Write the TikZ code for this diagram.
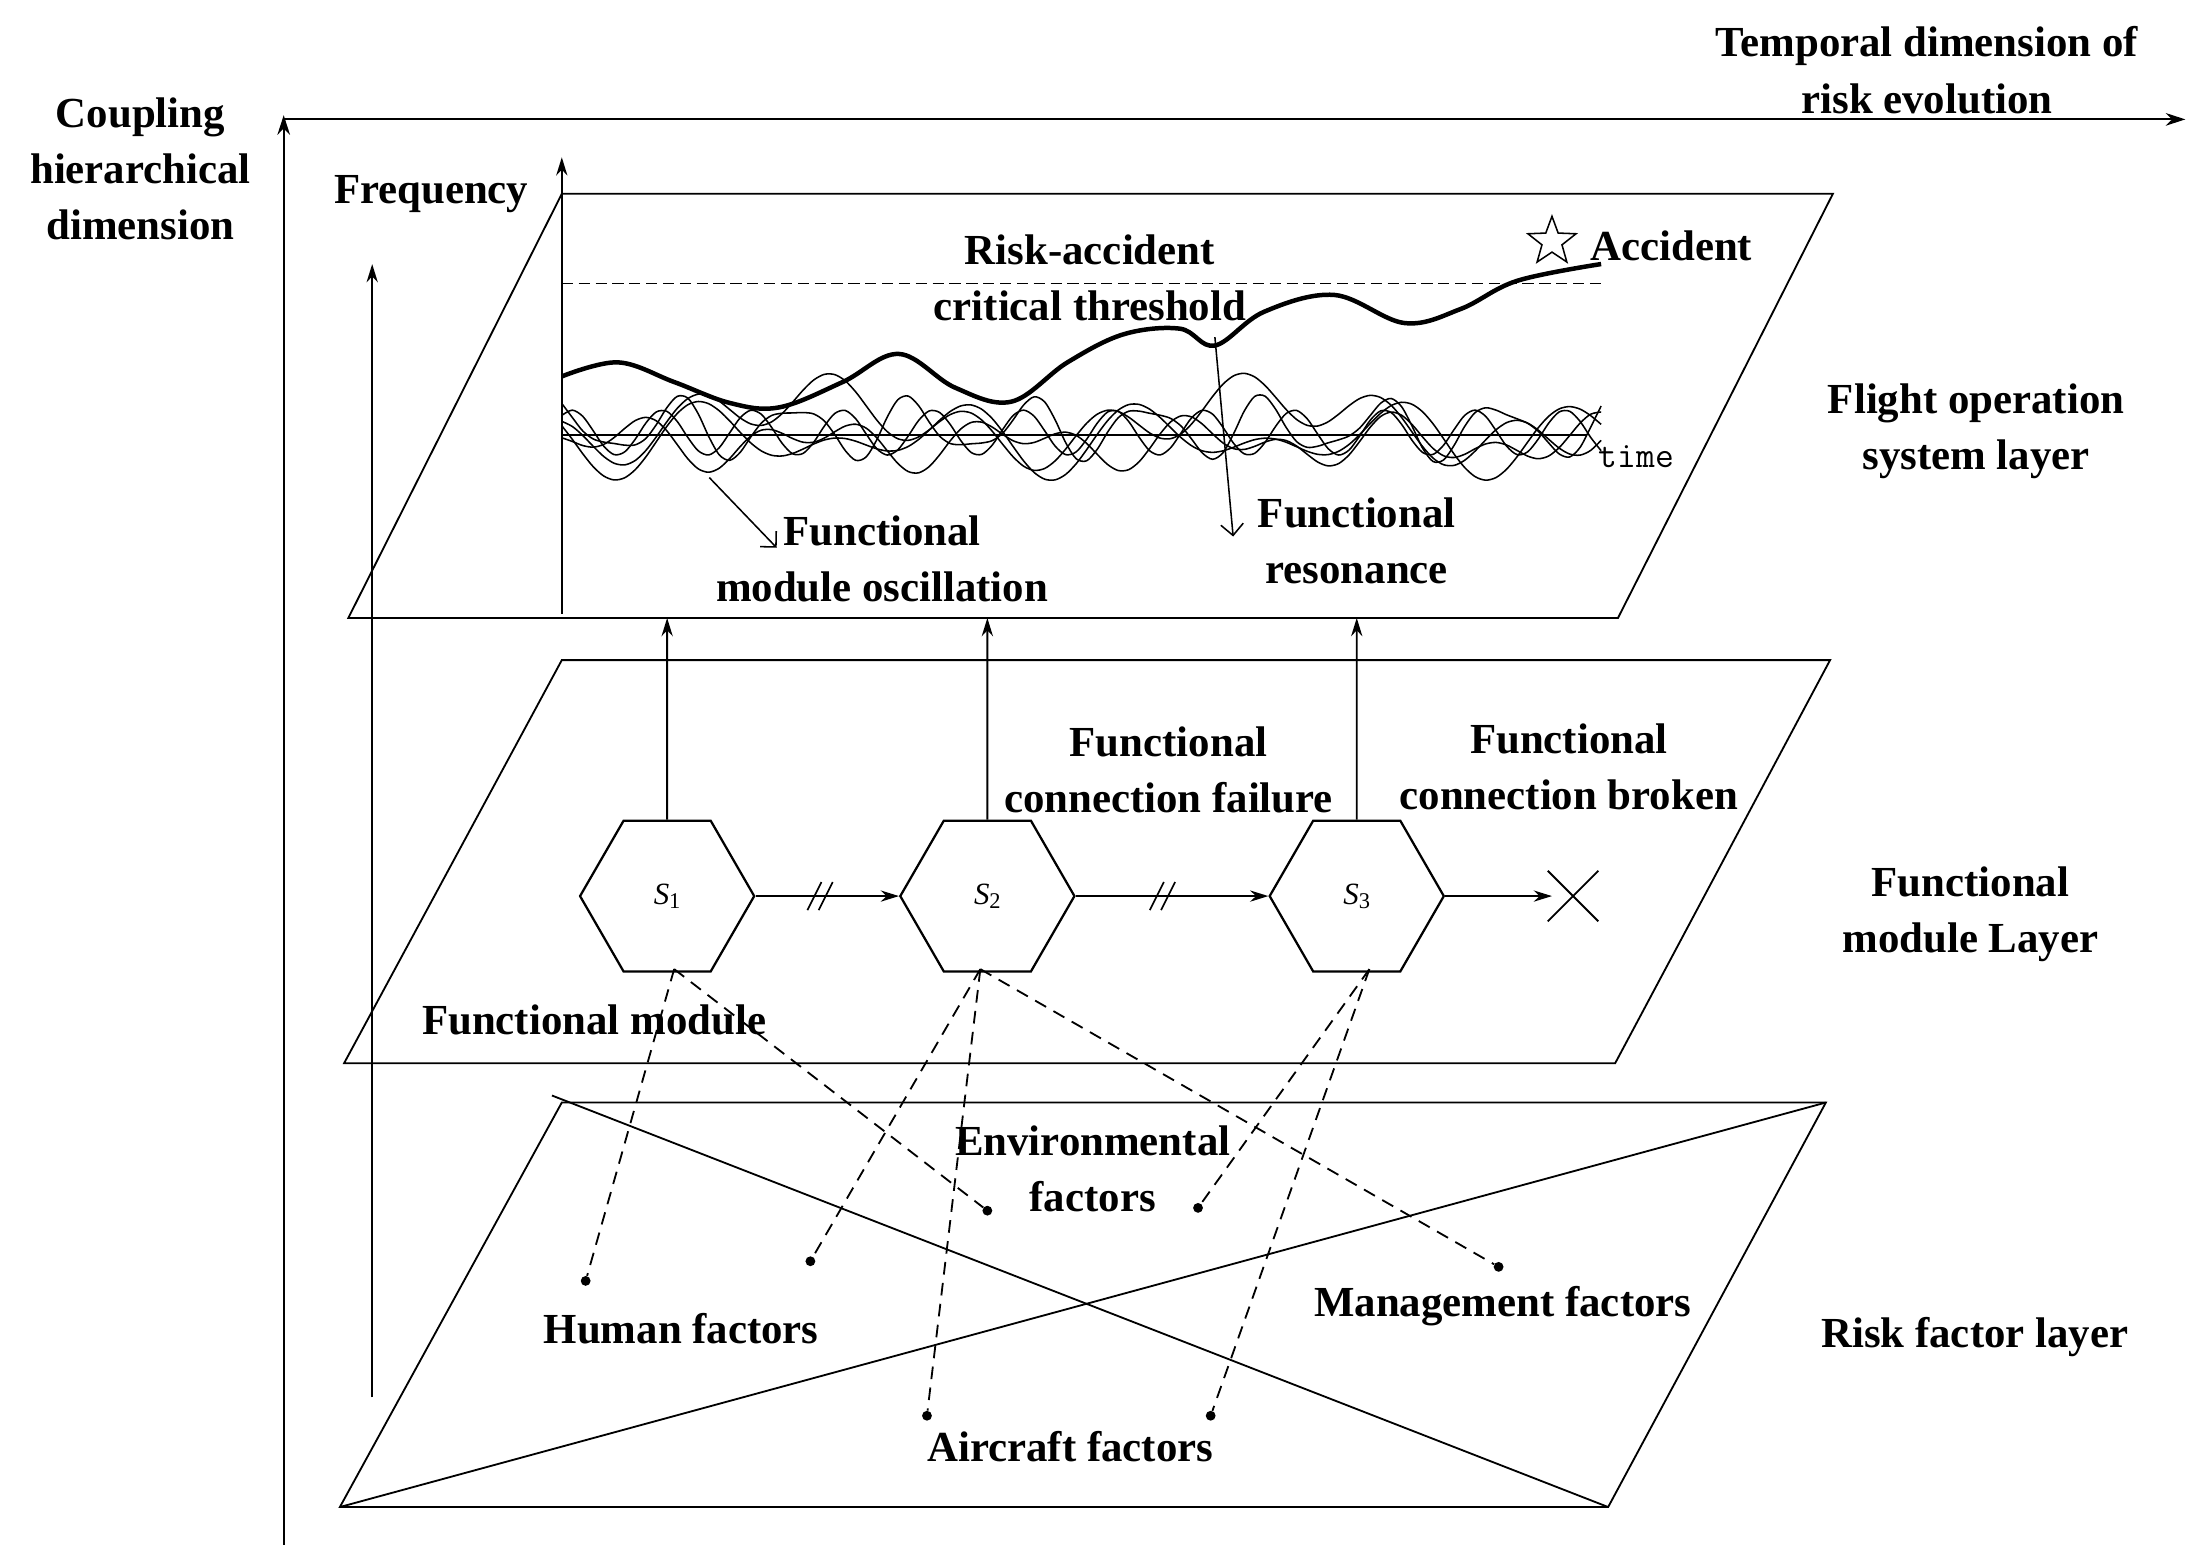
\documentclass[tikz,border=0pt]{standalone}
\usepackage{fontspec}
\setmainfont{Liberation Serif}
\usetikzlibrary{shapes.geometric,calc,arrows.meta}
\begin{document}
\begin{tikzpicture}[x=1pt,y=-1pt,
  lbl/.style={font=\fontsize{30.5}{40}\selectfont\bfseries,align=center,inner sep=0},
  ax/.style={line width=1.4pt,-{Stealth[length=14,width=9]}},
  arr/.style={line width=1.3pt,-{Stealth[length=13,width=8]}},
  plane/.style={line width=1.3pt},
  hex/.style={regular polygon,regular polygon sides=6,draw,line width=1.6pt,minimum size=124,inner sep=0,font=\fontsize{22}{24}\selectfont},
  dot/.style={circle,fill,inner sep=0,minimum size=7},
  dsh/.style={line width=1.3pt,dash pattern=on 9pt off 6pt},
  wave/.style={line width=1.1pt}]
\useasboundingbox (0,0) rectangle (1560,1109);
% axes
\coordinate (o) at (202,1100); \coordinate (yt) at (202,82); \coordinate (xr) at (1556,85); \coordinate (xl) at (202,85);
\draw[ax] (o) -- (yt);
\draw[ax] (xl) -- (xr);
\node[lbl] (cd) at (100,120) {Coupling\\hierarchical\\dimension};
\node[lbl] (td) at (1372,50) {Temporal dimension of\\risk evolution};
% inner vertical arrow
\coordinate (ib) at (265,995); \coordinate (it) at (265,188);
\draw[arr] (ib) -- (it);
% planes
\draw[plane] (248,440) -- (400,138) -- (1305,138) -- (1152,440) -- cycle;
\draw[plane] (245,757) -- (400,470) -- (1303,470) -- (1150,757) -- cycle;
\draw[plane] (242,1073) -- (400,785) -- (1300,785) -- (1145,1073) -- cycle;
\draw[plane] (393,780) -- (1145,1073);
\draw[plane] (242,1073) -- (1300,785);
% frequency axis
\coordinate (fb) at (400,437); \coordinate (ft) at (400,112);
\draw[arr] (fb) -- (ft);
\node[lbl] (fr) at (307,138) {Frequency};
\draw[line width=1.1pt,dash pattern=on 8pt off 4pt] (400,202) -- (1140,202);
\node[star,star points=5,star point ratio=2.4,draw,line width=1.1pt,minimum size=36,inner sep=0] (star) at (1105,172) {};
\node[lbl] (acc) at (1190,175) {Accident};
% time axis and waves
\coordinate (t0) at (400,310); \coordinate (t1) at (1130,310);
\draw[line width=1.3pt] (t0) -- (t1);
\node[font=\fontsize{26}{28}\selectfont\ttfamily,inner sep=0] (tm) at (1165,325) {time};
\begin{scope}
\clip (400,200) rectangle (1150,420);
\draw[wave] plot[smooth,domain=400:1140,samples=100] (\x,{305+18*sin(4.3*\x)+7*sin(7.1*\x+40)});
\draw[wave] plot[smooth,domain=400:1140,samples=100] (\x,{312+30*sin(2.9*\x+80)*sin(0.6*\x)});
\draw[wave] plot[smooth,domain=400:1140,samples=100] (\x,{308+16*sin(5.6*\x+150)});
\draw[wave] plot[smooth,domain=400:1140,samples=100] (\x,{315+22*sin(3.7*\x+200)*cos(1.1*\x)});
\draw[wave] plot[smooth,domain=400:1140,samples=100] (\x,{300+35*sin(2.4*\x+300)*sin(1.3*\x+30)});
\end{scope}
\draw[line width=3.2pt] plot[smooth,tension=0.6] coordinates {(400,268) (440,258) (480,272) (520,287) (555,290) (600,272) (640,252) (680,276) (720,286) (760,258) (800,238) (840,234) (865,246) (900,222) (950,210) (1000,230) (1040,220) (1080,200) (1140,188)};
\node[lbl] (rat) at (776,198) {Risk-accident\\critical threshold};
\coordinate (o1) at (505,340); \coordinate (o2) at (553,390);
\draw[line width=1.1pt,-{Straight Barb[length=8]}] (o1) -- (o2);
\node[lbl] (fmo) at (628,398) {Functional\\module oscillation};
\coordinate (r1) at (865,240); \coordinate (r2) at (878,382);
\draw[line width=1.1pt,-{Straight Barb[length=8]}] (r1) -- (r2);
\node[lbl] (fres) at (966,385) {Functional\\resonance};
\node[lbl] (fos) at (1407,307) {Flight operation\\system layer};
% functional modules
\node[hex] (S1) at (475,638) {\textit{S}\raisebox{-3pt}{\fontsize{16}{16}\selectfont 1}};
\node[hex] (S2) at (703,638) {\textit{S}\raisebox{-3pt}{\fontsize{16}{16}\selectfont 2}};
\node[hex] (S3) at (966,638) {\textit{S}\raisebox{-3pt}{\fontsize{16}{16}\selectfont 3}};
\coordinate (u1) at (475,440); \coordinate (u2) at (703,440); \coordinate (u3) at (966,440);
\draw[arr] (S1.north) -- (u1);
\draw[arr] (S2.north) -- (u2);
\draw[arr] (S3.north) -- (u3);
\draw[arr] (S1.east) -- (S2.west);
\draw[arr] (S2.east) -- (S3.west);
\coordinate (xe) at (1105,638);
\draw[arr] (S3.east) -- (xe);
\draw[line width=1.3pt] (1102,620) -- (1138,656) (1102,656) -- (1138,620);
\foreach \a/\b in {S1/S2,S2/S3}{
  \coordinate (m) at ($(\a.east)!0.45!(\b.west)$);
  \draw[line width=1.2pt] ($(m)+(-9,10)$) -- ($(m)+(1,-10)$);
  \draw[line width=1.2pt] ($(m)+(-1,10)$) -- ($(m)+(9,-10)$);
}
\node[lbl] (fcf) at (832,548) {Functional\\connection failure};
\node[lbl] (fcb) at (1117,546) {Functional\\connection broken};
\node[lbl] (fm) at (423,726) {Functional module};
\node[lbl] (fml) at (1403,651) {Functional\\module Layer};
% risk factors
\node[dot] (d1) at (417,912) {};
\node[dot] (d2) at (577,898) {};
\node[dot] (d3) at (703,862) {};
\node[dot] (d4) at (853,860) {};
\node[dot] (d5) at (1067,902) {};
\node[dot] (d6) at (660,1008) {};
\node[dot] (d7) at (862,1008) {};
\coordinate (b1) at (480,690); \coordinate (b2) at (698,690); \coordinate (b3) at (975,690);
\draw[dsh] (b1) -- (d1); \draw[dsh] (b1) -- (d3);
\draw[dsh] (b2) -- (d2); \draw[dsh] (b2) -- (d6); \draw[dsh] (b2) -- (d5);
\draw[dsh] (b3) -- (d4); \draw[dsh] (b3) -- (d7);
\node[lbl] (env) at (778,832) {Environmental\\factors};
\node[lbl] (hum) at (485,946) {Human factors};
\node[lbl] (man) at (1070,930) {Management factors};
\node[lbl] (air) at (762,1030) {Aircraft factors};
\node[lbl] (rfl) at (1406,952) {Risk factor layer};
\end{tikzpicture}
\end{document}
